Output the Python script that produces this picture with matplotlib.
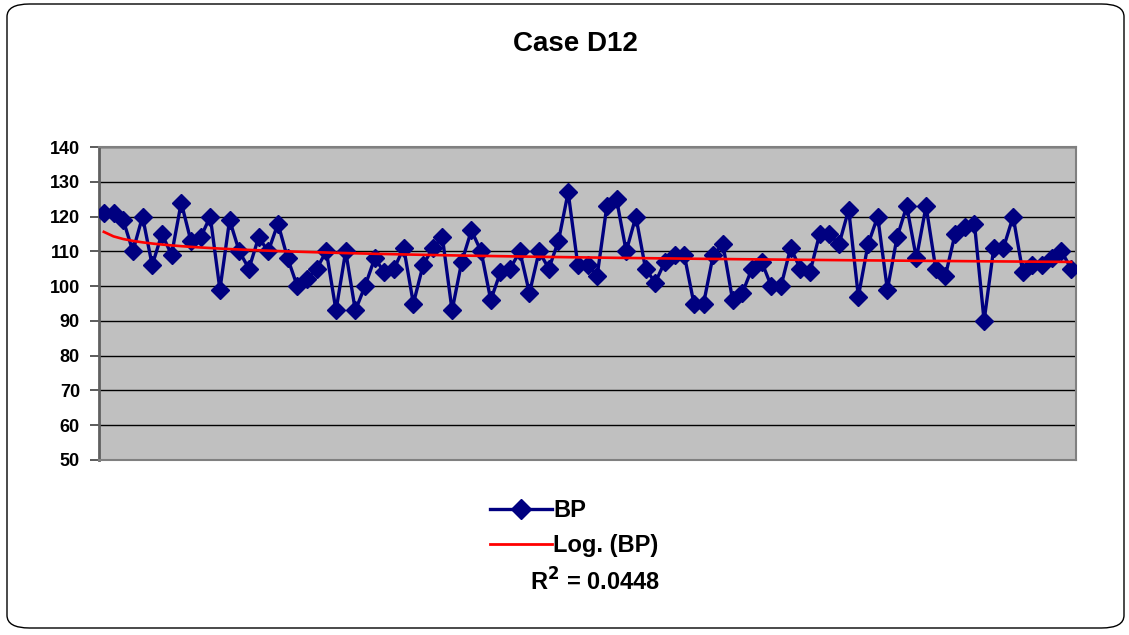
import numpy as np
import matplotlib
matplotlib.use('Agg')
import matplotlib.pyplot as plt
from matplotlib.patches import FancyBboxPatch
from matplotlib.lines import Line2D

plt.rcParams['font.family'] = ['Liberation Sans', 'DejaVu Sans']
plt.rcParams['mathtext.default'] = 'bf'

title = 'Case D12'
series_name = 'BP'
trend_name = 'Log. (BP)'
r2_label = 'R$^2$ = 0.0448'
yticks = [50, 60, 70, 80, 90, 100, 110, 120, 130, 140]

bp = [121, 121, 119, 110, 120, 106, 115, 109, 124, 113,
      114, 120, 99, 119, 110, 105, 114, 110, 118, 108,
      100, 102, 105, 110, 93, 110, 93, 100, 108, 104,
      105, 111, 95, 106, 111, 114, 93, 107, 116, 110,
      96, 104, 105, 110, 98, 110, 105, 113, 127, 106,
      106, 103, 123, 125, 110, 120, 105, 101, 107, 109,
      109, 95, 95, 109, 112, 96, 98, 105, 107, 100,
      100, 111, 105, 104, 115, 115, 112, 122, 97, 112,
      120, 99, 114, 123, 108, 123, 105, 103, 115, 117,
      118, 90, 111, 111, 120, 104, 106, 106, 108, 110,
      105]

x = np.arange(1, len(bp) + 1)
y = np.array(bp, dtype=float)

# logarithmic trendline like excel
a, b = np.polyfit(np.log(x), y, 1)
trend = a * np.log(x) + b

fig = plt.figure(figsize=(11.29, 6.35), dpi=100)
W, H = 1129, 635

# chart area border
border = FancyBboxPatch((7 / W, 7 / H), 1117 / W, 624 / H,
                        boxstyle='round,pad=0,rounding_size=0.02',
                        transform=fig.transFigure, fill=False,
                        edgecolor='black', linewidth=1.0)
fig.patches.append(border)

ax = fig.add_axes([99 / W, 1 - 460 / H, 977 / W, 313 / H])
ax.set_facecolor('#C0C0C0')

ax.plot(x, y, color='#000080', linewidth=2.4, marker='D',
        markersize=9, markerfacecolor='#000080',
        markeredgecolor='#000080', zorder=3)
ax.plot(x, trend, color='#FF0000', linewidth=1.9, zorder=4)

ax.set_xlim(0.5, len(bp) + 0.5)
ax.set_ylim(50, 140)
ax.set_yticks(yticks)
ax.set_xticks([])
ax.grid(axis='y', color='#000000', linewidth=1.0, zorder=1)
ax.set_axisbelow(True)
for s in ['top', 'right', 'bottom']:
    ax.spines[s].set_color('#808080')
    ax.spines[s].set_linewidth(1.5)
ax.spines['left'].set_color('#606060')
ax.spines['left'].set_linewidth(2.0)
ax.tick_params(axis='y', direction='out', length=6.2, width=1.2,
               color='#404040', labelsize=13, pad=7.5)
for lab in ax.get_yticklabels():
    lab.set_fontweight('bold')

fig.text(575 / W, 1 - 44 / H, title, ha='center', va='center',
         fontsize=20, fontweight='bold')

h1 = Line2D([], [], color='#000080', linewidth=2.4, marker='D',
            markersize=10.5, markerfacecolor='#000080')
h2 = Line2D([], [], color='#FF0000', linewidth=2.0)
leg = fig.legend([h1, h2], [series_name, trend_name],
                 loc='center left', bbox_to_anchor=(490 / W, 1 - 528 / H),
                 frameon=False, fontsize=17, handlelength=2.63,
                 handletextpad=0.05, labelspacing=0.5,
                 borderaxespad=0, borderpad=0)
for t in leg.get_texts():
    t.set_fontweight('bold')

fig.text(595 / W, 1 - 582 / H, r2_label, ha='center', va='center',
         fontsize=17, fontweight='bold')

fig.savefig('out.png', dpi=100)
